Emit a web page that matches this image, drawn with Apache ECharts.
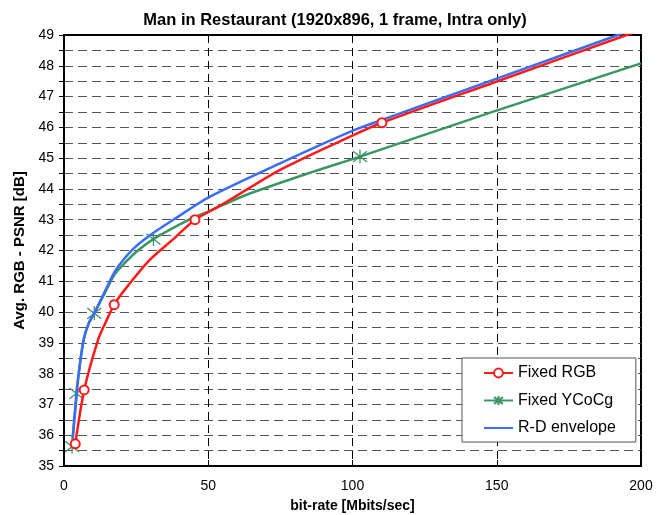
<!DOCTYPE html>
<html>
<head>
<meta charset="utf-8">
<script src="https://cdn.jsdelivr.net/npm/echarts@6/dist/echarts.min.js"></script>
<style>
  html, body { margin: 0; padding: 0; background: #fff; }
  #chart { width: 669px; height: 515px; }
</style>
</head>
<body>
<div id="chart"></div>
<script>
// Fixed RGB: bit-rate [Mbits/sec] / PSNR [dB]; marked = points with a circle
const rgbRate = [3.9, 7.0, 11.8, 14.3, 17.4, 21.1, 29.8, 37.9, 45.4, 54.6, 74.9, 100.3, 110.2, 148.8, 195, 200];
const rgbPsnr = [35.72, 37.47, 39.1, 39.64, 40.24, 40.73, 41.7, 42.37, 43.0, 43.48, 44.62, 45.75, 46.15, 47.45, 49.0, 49.17];
const rgbMarked = [true, true, false, false, true, false, false, false, true, false, false, false, true, false, false, false];

// Fixed YCoCg
const ycocgRate = [2.8, 4.3, 5.1, 6.8, 8.6, 10.5, 14.3, 17.5, 20.6, 25.0, 31.0, 43.7, 50.6, 63.3, 86.4, 102.6, 148.8, 200];
const ycocgPsnr = [35.63, 37.36, 38.0, 39.1, 39.64, 39.96, 40.65, 41.22, 41.55, 41.95, 42.37, 43.02, 43.29, 43.81, 44.56, 45.05, 46.51, 48.08];
const ycocgMarked = [true, true, false, false, false, true, false, false, false, false, true, false, false, false, false, true, false, false];

// R-D envelope
const envRate = [3.0, 3.9, 5.1, 6.8, 8.6, 10.5, 14.3, 17.5, 20.6, 24.0, 27.5, 31.4, 37.9, 50, 74.9, 100.3, 109.5, 148.8, 192, 200];
const envPsnr = [35.9, 36.8, 38.0, 39.1, 39.64, 39.96, 40.7, 41.3, 41.7, 42.05, 42.33, 42.6, 43.0, 43.72, 44.83, 45.9, 46.22, 47.54, 49.0, 49.28];

const xTicks = { min: 0, max: 200, interval: 50 };
const yTicks = { min: 35, max: 49, interval: 1 };

function buildData(xs, ys, marked) {
    return xs.map((x, i) => {
        const item = { value: [x, ys[i]] };
        if (marked && !marked[i]) item.symbol = 'none';
        return item;
    });
}

const chart = echarts.init(document.getElementById('chart'));

const red = '#ff1a1a';
const green = '#3a9562';
const blue = '#3b6cf6';
const starPath = 'path://M-1,-1L1,1M1,-1L-1,1M0,-1.3L0,1.3';

chart.setOption({
    animation: false,
    backgroundColor: '#fff',
    textStyle: { fontFamily: 'Liberation Sans, Arial, sans-serif' },
    title: {
        text: 'Man in Restaurant (1920x896, 1 frame, Intra only)',
        left: 330,
        textAlign: 'center',
        top: 7,
        textStyle: { fontSize: 16.5, fontWeight: 'bold', color: '#000' }
    },
    grid: {
        left: 64, right: 28, top: 35, bottom: 49,
        outerBoundsMode: 'none',
        containLabel: false,
        show: true, borderColor: '#000', borderWidth: 2
    },
    legend: {
        orient: 'vertical',
        left: 462,
        top: 358,
        itemWidth: 29,
        itemHeight: 11,
        itemGap: 11.5,
        padding: [7, 20, 6, 21],
        backgroundColor: '#fff',
        borderColor: '#555',
        borderWidth: 1,
        borderRadius: 0,
        textStyle: { fontSize: 16, lineHeight: 16, color: '#000' },
        data: [
            'Fixed RGB',
            'Fixed YCoCg',
            { name: 'R-D envelope', itemStyle: { opacity: 0 } }
        ]
    },
    xAxis: [{
        type: 'value',
        min: xTicks.min, max: xTicks.max, interval: xTicks.interval,
        name: 'bit-rate [Mbits/sec]',
        nameLocation: 'middle',
        nameGap: 33,
        nameTextStyle: { fontSize: 14, fontWeight: 'bold', color: '#000' },
        axisLine: { show: true, lineStyle: { color: '#000', width: 2 } },
        axisTick: { show: true, inside: true, length: 6, lineStyle: { color: '#000' } },
        axisLabel: { fontSize: 14, color: '#000', margin: 13 },
        splitLine: { show: true, lineStyle: { color: '#000', type: [8, 5], width: 1 } }
    }, {
        type: 'value',
        position: 'top',
        min: xTicks.min, max: xTicks.max, interval: xTicks.interval,
        axisLine: { show: true, lineStyle: { color: '#000', width: 2 } },
        axisTick: { show: true, inside: true, length: 6, lineStyle: { color: '#000' } },
        axisLabel: { show: false },
        splitLine: { show: false }
    }],
    yAxis: {
        type: 'value',
        min: yTicks.min, max: yTicks.max, interval: yTicks.interval,
        name: 'Avg. RGB - PSNR [dB]',
        nameLocation: 'middle',
        nameGap: 31,
        nameTextStyle: { fontSize: 15, fontWeight: 'bold', color: '#000' },
        axisLine: { show: true, lineStyle: { color: '#000', width: 2 } },
        axisTick: { show: true, length: 5, lineStyle: { color: '#000' } },
        minorTick: { show: true, splitNumber: 2, length: 5, lineStyle: { color: '#000' } },
        axisLabel: { fontSize: 14, color: '#000', margin: 10 },
        splitLine: { show: true, lineStyle: { color: '#555', type: [9, 5], width: 1 } },
        minorSplitLine: { show: true, lineStyle: { color: '#555', type: [9, 5], width: 1 } }
    },
    series: [{
        name: 'Fixed RGB',
        type: 'line',
        smooth: 0.25,
        symbol: 'emptyCircle',
        symbolSize: 9,
        showAllSymbol: true,
        lineStyle: { color: red, width: 2.5 },
        itemStyle: { color: red, borderColor: red, borderWidth: 1 },
        data: buildData(rgbRate, rgbPsnr, rgbMarked),
        z: 4
    }, {
        name: 'Fixed YCoCg',
        type: 'line',
        smooth: 0.25,
        symbol: starPath,
        symbolSize: 14,
        showAllSymbol: true,
        lineStyle: { color: green, width: 2.5 },
        itemStyle: { color: green, borderColor: green, borderWidth: 1.3 },
        data: buildData(ycocgRate, ycocgPsnr, ycocgMarked),
        z: 2
    }, {
        name: 'R-D envelope',
        type: 'line',
        smooth: 0.25,
        symbol: 'none',
        lineStyle: { color: blue, width: 2.5 },
        itemStyle: { color: blue },
        data: buildData(envRate, envPsnr, null),
        z: 3
    }]
});
</script>
</body>
</html>
